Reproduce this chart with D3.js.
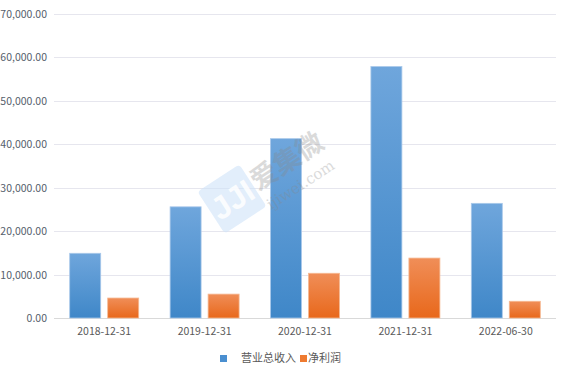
<!DOCTYPE html>
<html><head><meta charset="utf-8">
<script src="https://cdn.jsdelivr.net/npm/d3@7"></script>
<style>body{margin:0;background:#fff}svg{display:block}</style>
</head><body>
<script>
const categories = ["2018-12-31","2019-12-31","2020-12-31","2021-12-31","2022-06-30"];
const revenue = [14900, 25600, 41300, 57900, 26400];
const profit = [4600, 5500, 10300, 13800, 3850];
const seriesNames = ["营业总收入","净利润"];
const yTicks = [0,10000,20000,30000,40000,50000,60000,70000];

const W=568,H=369;
const svg=d3.select("body").append("svg").attr("width",W).attr("height",H);
const m={l:54,r:12,t:14,b:51};
const x=d3.scaleBand().domain(categories).range([m.l,W-m.r]);
const y=d3.scaleLinear().domain([0,70000]).range([H-m.b,m.t]);
const font="'Microsoft YaHei','Noto Sans CJK SC',sans-serif";

const defs=svg.append("defs");
function grad(id,top,bot){const g=defs.append("linearGradient").attr("id",id).attr("x1",0).attr("y1",0).attr("x2",0).attr("y2",1);
g.append("stop").attr("offset","0%").attr("stop-color",top);g.append("stop").attr("offset","100%").attr("stop-color",bot);}
grad("gb","#6fa6dc","#3f87c8");
grad("go","#f08e58","#e8681b");

// grid
svg.append("g").selectAll("line").data(yTicks).join("line")
 .attr("x1",m.l).attr("x2",W-m.r).attr("y1",d=>Math.round(y(d))+0.5).attr("y2",d=>Math.round(y(d))+0.5)
 .attr("stroke",d=>d===0?"#d9d9d9":"#e6e6ee").attr("stroke-width",1);

// y labels
const fmt=d3.format(",.2f");
svg.append("g").selectAll("text").data(yTicks).join("text")
 .attr("x",47).attr("y",d=>y(d)+4).attr("text-anchor","end")
 .attr("font-family",font).attr("font-size",10.5).attr("fill","#56606c").text(d=>fmt(d));

// bars
const bw=31, gap=7;
const g=svg.append("g");
g.selectAll(".rb").data(categories).join("rect").attr("class","rb")
 .attr("x",d=>x(d)+x.bandwidth()/2-gap/2-bw).attr("width",bw)
 .attr("y",(d,i)=>y(revenue[i])).attr("height",(d,i)=>y(0)-y(revenue[i]))
 .attr("fill","url(#gb)").attr("stroke","#a9c8ea").attr("stroke-width",0.8);
g.selectAll(".pb").data(categories).join("rect").attr("class","pb")
 .attr("x",d=>x(d)+x.bandwidth()/2+gap/2).attr("width",bw)
 .attr("y",(d,i)=>y(profit[i])).attr("height",(d,i)=>y(0)-y(profit[i]))
 .attr("fill","url(#go)").attr("stroke","#f6b892").attr("stroke-width",0.8);

// watermark (on top, translucent)
const wm=svg.append("g");
wm.append("g").attr("transform","translate(232,199) rotate(-33)")
 .call(g=>{g.append("rect").attr("x",-25).attr("y",-25).attr("width",50).attr("height",50).attr("rx",4).attr("fill","#cfe2f8").attr("opacity",0.6);
  g.append("text").attr("x",0).attr("y",12).attr("text-anchor","middle").attr("font-family","sans-serif").attr("font-weight","bold").attr("font-size",32).attr("fill","#ffffff").attr("opacity",0.85).text("JJI");});
wm.append("text").attr("transform","translate(258,191) rotate(-33)").attr("font-family",font).attr("font-size",27).attr("font-weight","bold").attr("fill","#888").attr("opacity",0.3).text("爱集微");
wm.append("text").attr("transform","translate(271,210) rotate(-33)").attr("font-family","'DejaVu Serif',serif").attr("font-size",15).attr("fill","#888").attr("opacity",0.3).text("ijiwei.com");

// x labels
svg.append("g").selectAll("text").data(categories).join("text")
 .attr("x",d=>x(d)+x.bandwidth()/2).attr("y",335).attr("text-anchor","middle")
 .attr("font-family",font).attr("font-size",10.5).attr("fill","#595959").text(d=>d);

// legend
const lg=svg.append("g");
lg.append("rect").attr("x",220).attr("y",355).attr("width",7).attr("height",7).attr("fill","#4a8fd0");
lg.append("text").attr("x",241).attr("y",362).attr("font-family",font).attr("font-size",11).attr("fill","#595959").text(seriesNames[0]);
lg.append("rect").attr("x",300).attr("y",355).attr("width",7).attr("height",7).attr("fill","#ee7a30");
lg.append("text").attr("x",308).attr("y",362).attr("font-family",font).attr("font-size",11).attr("fill","#595959").text(seriesNames[1]);
</script>
</body></html>
